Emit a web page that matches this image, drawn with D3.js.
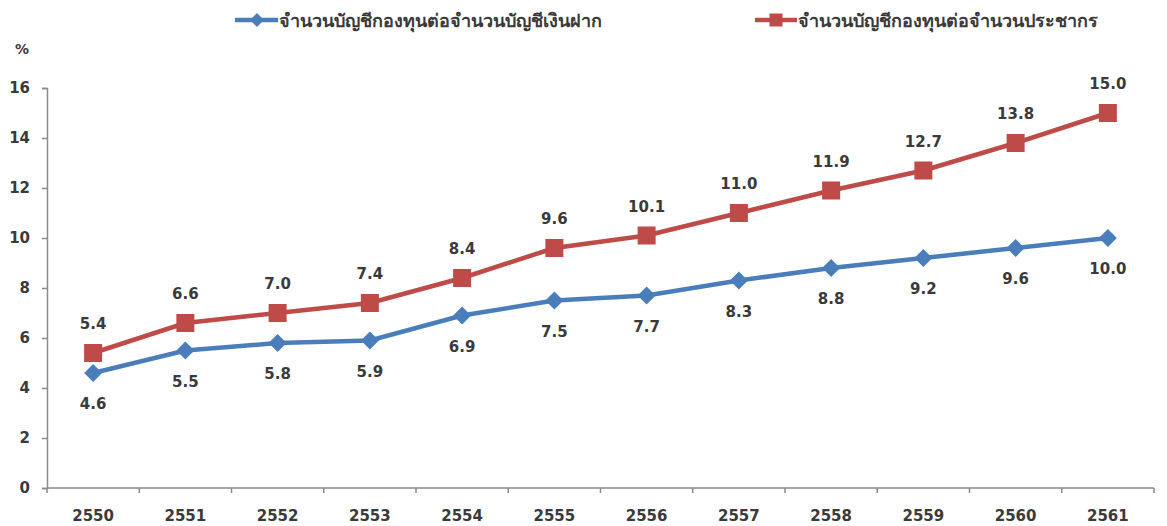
<!DOCTYPE html>
<html>
<head>
<meta charset="utf-8">
<script src="https://cdn.jsdelivr.net/npm/d3@7"></script>
<style>
  body { margin: 0; background: #fff; }
  text { font-family: "DejaVu Sans", "Noto Sans", sans-serif; fill: #3a3a3a; }
</style>
</head>
<body>
<svg id="chart" width="1167" height="526"></svg>
<script>
const years = ["2550", "2551", "2552", "2553", "2554", "2555", "2556", "2557", "2558", "2559", "2560", "2561"];
const depositRatio = [4.6, 5.5, 5.8, 5.9, 6.9, 7.5, 7.7, 8.3, 8.8, 9.2, 9.6, 10.0];
const populationRatio = [5.4, 6.6, 7.0, 7.4, 8.4, 9.6, 10.1, 11.0, 11.9, 12.7, 13.8, 15.0];
const yTicks = [0, 2, 4, 6, 8, 10, 12, 14, 16];
const seriesNames = ["จำนวนบัญชีกองทุนต่อจำนวนบัญชีเงินฝาก", "จำนวนบัญชีกองทุนต่อจำนวนประชากร"];

const svg = d3.select("#chart");
const plotLeft = 47, plotRight = 1154, plotTop = 88, plotBottom = 488;
const blue = "#4a7ebb", red = "#be4b48", axisColor = "#8a8a8a";

const x = d3.scaleBand().domain(years).range([plotLeft, plotRight]);
const y = d3.scaleLinear().domain([0, 16]).range([plotBottom, plotTop]);

// y axis
const yAxis = svg.append("g").attr("transform", `translate(${plotLeft},0)`)
  .call(d3.axisLeft(y).tickValues(yTicks).tickSize(5).tickPadding(12));
yAxis.selectAll("path, line").attr("stroke", axisColor).attr("stroke-width", 1.5);
yAxis.selectAll("text").style("font-size", "15px").style("font-weight", "bold").attr("fill", "#3a3a3a");

// x axis with ticks between categories
const xAxis = svg.append("g").attr("transform", `translate(0,${plotBottom})`);
xAxis.append("line").attr("x1", plotLeft).attr("x2", plotRight).attr("y1", 0).attr("y2", 0)
  .attr("stroke", axisColor).attr("stroke-width", 1.5);
xAxis.selectAll("line.tick").data(d3.range(years.length + 1)).join("line")
  .attr("class", "tick")
  .attr("x1", i => plotLeft + i * x.step()).attr("x2", i => plotLeft + i * x.step())
  .attr("y1", 0).attr("y2", 5).attr("stroke", axisColor).attr("stroke-width", 1.5);
xAxis.selectAll("text").data(years).join("text")
  .attr("x", d => x(d) + x.bandwidth() / 2).attr("y", 33)
  .attr("text-anchor", "middle").style("font-size", "15px").style("font-weight", "bold")
  .text(d => d);

svg.append("text").attr("x", 22).attr("y", 54).attr("text-anchor", "middle")
  .style("font-size", "14px").style("font-weight", "bold").text("%");

const cx = (d, i) => x(years[i]) + x.bandwidth() / 2;
const line = d3.line().x(cx).y(d => y(d));

function diamond(g, px, py, r) {
  g.append("path").attr("d", `M${px},${py - r}L${px + r},${py}L${px},${py + r}L${px - r},${py}Z`).attr("fill", blue);
}
function square(g, px, py, s) {
  g.append("rect").attr("x", px - s / 2).attr("y", py - s / 2).attr("width", s).attr("height", s).attr("fill", red);
}

// series lines
svg.append("path").datum(depositRatio).attr("d", line).attr("fill", "none")
  .attr("stroke", blue).attr("stroke-width", 4.5);
svg.append("path").datum(populationRatio).attr("d", line).attr("fill", "none")
  .attr("stroke", red).attr("stroke-width", 4.5);

const markers = svg.append("g");
depositRatio.forEach((d, i) => diamond(markers, cx(d, i), y(d), 9));
populationRatio.forEach((d, i) => square(markers, cx(d, i), y(d), 18));

// data labels
svg.append("g").selectAll("text").data(depositRatio).join("text")
  .attr("x", cx).attr("y", d => y(d) + 36).attr("text-anchor", "middle")
  .style("font-size", "15px").style("font-weight", "bold").text(d => d.toFixed(1));
svg.append("g").selectAll("text").data(populationRatio).join("text")
  .attr("x", cx).attr("y", d => y(d) - 24).attr("text-anchor", "middle")
  .style("font-size", "15px").style("font-weight", "bold").text(d => d.toFixed(1));

// legend
const legend = svg.append("g");
legend.append("line").attr("x1", 235).attr("x2", 278).attr("y1", 20).attr("y2", 20)
  .attr("stroke", blue).attr("stroke-width", 4.5);
diamond(legend, 257, 20, 7);
legend.append("text").attr("x", 279).attr("y", 27).style("font-size", "18px").style("font-weight", "bold")
  .text(seriesNames[0]);
legend.append("line").attr("x1", 755).attr("x2", 797).attr("y1", 20).attr("y2", 20)
  .attr("stroke", red).attr("stroke-width", 4.5);
square(legend, 776, 20, 13);
legend.append("text").attr("x", 798).attr("y", 27).style("font-size", "18px").style("font-weight", "bold")
  .text(seriesNames[1]);
</script>
</body>
</html>
